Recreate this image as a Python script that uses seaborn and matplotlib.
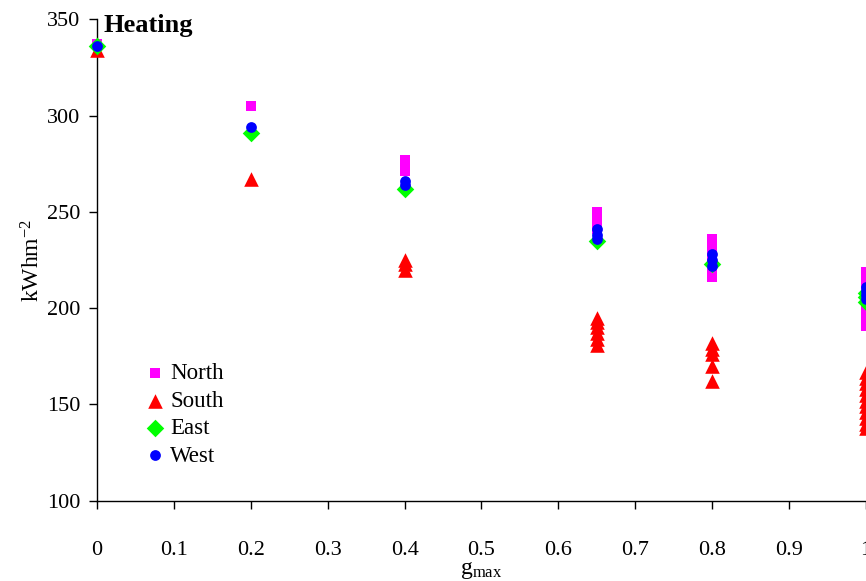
import numpy as np
import pandas as pd
import seaborn as sns
import matplotlib.pyplot as plt

# g_max values and heating demand (kWh/m2)
g_levels = [0.0, 0.2, 0.4, 0.65, 0.8, 1.0]

north = [[337], [305], [277, 275, 273, 271], [250, 247, 244, 241],
         [236, 232, 228, 224, 220, 216],
         [219, 216, 213, 210, 207, 204, 200, 196, 191]]
south = [[334], [267], [225, 223, 220], [195, 193, 190, 187, 184, 181],
         [182, 179, 176, 170, 162],
         [167, 164, 161, 158, 155, 152, 149, 146, 143, 140, 138]]
east = [[336], [291], [262], [235], [223], [208, 206, 203]]
west = [[336], [294], [266, 264], [241, 238, 236], [228, 225, 222],
        [211, 209, 207, 205]]

rows = []
for name, series in [("North", north), ("South", south), ("East", east), ("West", west)]:
    for g, vals in zip(g_levels, series):
        for v in vals:
            rows.append({"g": g, "kWh": v, "Orientation": name})
df = pd.DataFrame(rows)

sns.set_style("ticks")
plt.rcParams['font.family'] = ['Liberation Serif', 'DejaVu Serif']
plt.rcParams['mathtext.fontset'] = 'custom'
plt.rcParams['mathtext.rm'] = 'Liberation Serif'
plt.rcParams['mathtext.it'] = 'Liberation Serif:italic'
plt.rcParams['mathtext.default'] = 'regular'
plt.rcParams['text.color'] = 'black'
plt.rcParams['axes.labelcolor'] = 'black'
plt.rcParams['xtick.color'] = 'black'
plt.rcParams['ytick.color'] = 'black'

styles = {
    "North": dict(color="#FF00FF", marker="s", s=55),
    "South": dict(color="#FF0000", marker="^", s=110),
    "East": dict(color="#00FF00", marker="D", s=80),
    "West": dict(color="#0000FF", marker="o", s=60),
}

fig = plt.figure(figsize=(8.66, 5.81), dpi=100)
ax = fig.add_axes([0.112, 0.138, 0.888, 0.829])

for name, st in styles.items():
    sub = df[df["Orientation"] == name]
    sns.scatterplot(data=sub, x="g", y="kWh", ax=ax, color=st["color"],
                    marker=st["marker"], s=st["s"], linewidth=0,
                    label=name, clip_on=False, zorder=3)

ax.set_xlim(0, 1)
ax.set_ylim(100, 350)
ax.set_xticks(np.arange(0, 1.01, 0.1))
ax.set_xticklabels(["0", "0.1", "0.2", "0.3", "0.4", "0.5", "0.6", "0.7", "0.8", "0.9", "1"])
ax.set_yticks(range(100, 351, 50))
ax.tick_params(axis="both", labelsize=16, length=6, width=1, color="black",
               labelcolor="black", direction="out")
ax.tick_params(axis="x", pad=23)
ax.tick_params(axis="y", pad=6)
for sp in ["top", "right"]:
    ax.spines[sp].set_visible(False)
for sp in ["left", "bottom"]:
    ax.spines[sp].set_color("black")
    ax.spines[sp].set_linewidth(1)

ax.set_xlabel(r"g$_{max}$", fontsize=17, labelpad=0)
ax.set_ylabel(r"kWhm$^{-2}$", fontsize=17, labelpad=2)
ax.text(0.009, 1.01, "Heating", transform=ax.transAxes, fontsize=19,
        fontweight="bold", va="top", ha="left")

leg = ax.legend(loc="upper left", bbox_to_anchor=(0.049, 0.305), frameon=False,
                fontsize=16.5, handlelength=1.0, handletextpad=0.15,
                labelspacing=0.28, borderaxespad=0)

plt.savefig("out.png", dpi=100)
